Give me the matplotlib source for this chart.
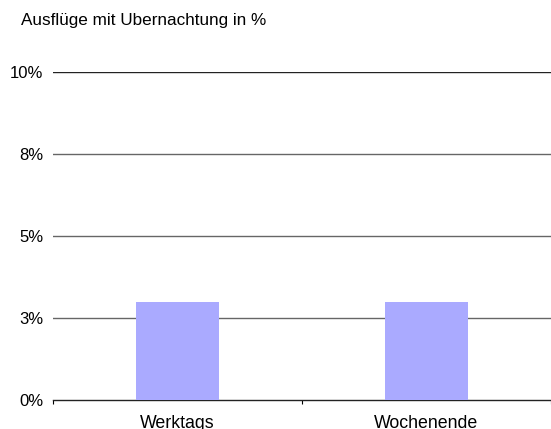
import matplotlib
matplotlib.use("Agg")
import matplotlib.pyplot as plt
from matplotlib.ticker import FixedLocator

categories = ["Werktags", "Wochenende"]
values = [3.0, 3.0]
ytick_values = [0, 2.5, 5, 7.5, 10]
ytick_labels = ["0%", "3%", "5%", "8%", "10%"]
title = "Ausflüge mit Ubernachtung in %"

plt.rcParams['font.family'] = ['Liberation Sans', 'DejaVu Sans']

fig = plt.figure(figsize=(5.51, 4.29), dpi=100)
ax = fig.add_axes([0.0962, 0.0676, 0.9038, 0.7644])

x = list(range(len(categories)))
ax.bar(x, values, width=0.333, color="#aaaaff", zorder=3)

ax.set_xlim(-0.5, len(categories) - 0.5)
ax.set_ylim(0, 10)
ax.set_yticks(ytick_values)
ax.set_yticklabels(ytick_labels, fontsize=12)
ax.set_xticks(x)
ax.set_xticklabels(categories, fontsize=12.8)
ax.tick_params(axis='y', length=0, pad=7)
ax.tick_params(axis='x', which='major', length=0, pad=11)
ax.xaxis.set_minor_locator(FixedLocator([-0.5, 0.5, 1.5]))
ax.tick_params(axis='x', which='minor', length=3, width=0.8, direction='out')

for v in ytick_values[1:]:
    ax.axhline(v, color="#666666" if v < 10 else "#222222", lw=1.0, zorder=1)

for s in ['top', 'right', 'left']:
    ax.spines[s].set_visible(False)
ax.spines['bottom'].set_color('#222222')
ax.spines['bottom'].set_linewidth(1.0)

fig.text(21 / 551, 1 - 21 / 429, title, fontsize=12.3, va='center', ha='left')

fig.savefig("out.png", dpi=100)
